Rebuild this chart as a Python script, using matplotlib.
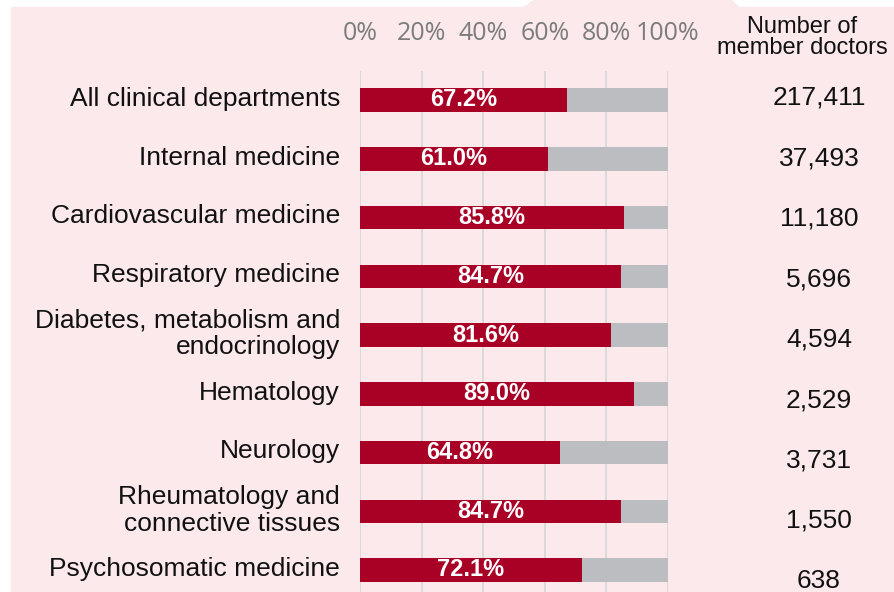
import matplotlib.pyplot as plt
from matplotlib.patches import Polygon, Rectangle
import matplotlib.font_manager as fm

departments = [
    "All clinical departments",
    "Internal medicine",
    "Cardiovascular medicine",
    "Respiratory medicine",
    "Diabetes, metabolism and\nendocrinology",
    "Hematology",
    "Neurology",
    "Rheumatology and\nconnective tissues",
    "Psychosomatic medicine",
]
share = [67.2, 61.0, 85.8, 84.7, 81.6, 89.0, 64.8, 84.7, 72.1]
members = [217411, 37493, 11180, 5696, 4594, 2529, 3731, 1550, 638]
ticks = [0, 20, 40, 60, 80, 100]

W, H = 895, 592
RED = '#A90025'
GREY = '#BCBDC0'
PINK = '#FBE9EC'

names = {f.name for f in fm.fontManager.ttflist}
narrow = 'Liberation Sans Narrow' if 'Liberation Sans Narrow' in names else 'Liberation Sans'
thin_family = 'Open Sans' if 'Open Sans' in names else 'Liberation Sans'

plt.rcParams['font.family'] = ['Liberation Sans', 'DejaVu Sans']

fig = plt.figure(figsize=(W / 100, H / 100), dpi=100)
fig.patch.set_facecolor('white')

# pink panel with the little tab on top (pixel coords, y from top)
px = lambda x, y: (x / W, 1 - y / H)
fig.patches.append(Rectangle(px(11, H), (W - 11) / W, (H - 7) / H,
                             transform=fig.transFigure, color=PINK, zorder=-10))
fig.patches.append(Polygon([px(523, 7.5), px(533, 0), px(732, 0), px(740, 7.5)],
                           closed=True, transform=fig.transFigure, color=PINK,
                           lw=0, zorder=-10))

top_px = 71
ax = fig.add_axes([360 / W, 0, 308 / W, (H - top_px) / H])
ax.set_facecolor('none')

pitch = 58.75
n = len(departments)
y = list(range(n))
ax.set_xlim(0, 100)
ax.set_ylim((H - 100) / pitch, -(100 - top_px) / pitch)

for t in ticks:
    ax.axvline(t, color='#D9D9D9', lw=1.4, zorder=1)

ax.barh(y, share, height=0.4, color=RED, zorder=2)
ax.barh(y, [100 - s for s in share], left=share, height=0.4, color=GREY, zorder=2)

for i, s in enumerate(share):
    ax.text(s / 2, i, f"{s:.1f}%", color='white', ha='center', va='center',
            fontsize=17, fontweight='bold', family=[narrow, 'DejaVu Sans'], zorder=3)
    ax.text(-20 / 3.08, i - 0.02, departments[i], ha='right', va='center',
            fontsize=19, linespacing=1.15, color='#111111', clip_on=False)
    ax.text(149, i * 60.4 / pitch - 2 / pitch, f"{members[i]:,}", ha='center',
            va='center', fontsize=19, color='#111111', clip_on=False)

for t in ticks:
    ax.text(t, -(100 - 33) / pitch, f"{t}%", ha='center', va='center',
            fontsize=18, color='#7C7C7C', family=thin_family, fontweight='normal',
            clip_on=False)

ax.text(143.5, -(100 - 37.5) / pitch, "Number of\nmember doctors", ha='center',
        va='center', fontsize=17, linespacing=0.97, color='#111111', clip_on=False)

ax.set_xticks([])
ax.set_yticks([])
for sp in ax.spines.values():
    sp.set_visible(False)

fig.savefig('out.png', dpi=100, facecolor=fig.get_facecolor())
